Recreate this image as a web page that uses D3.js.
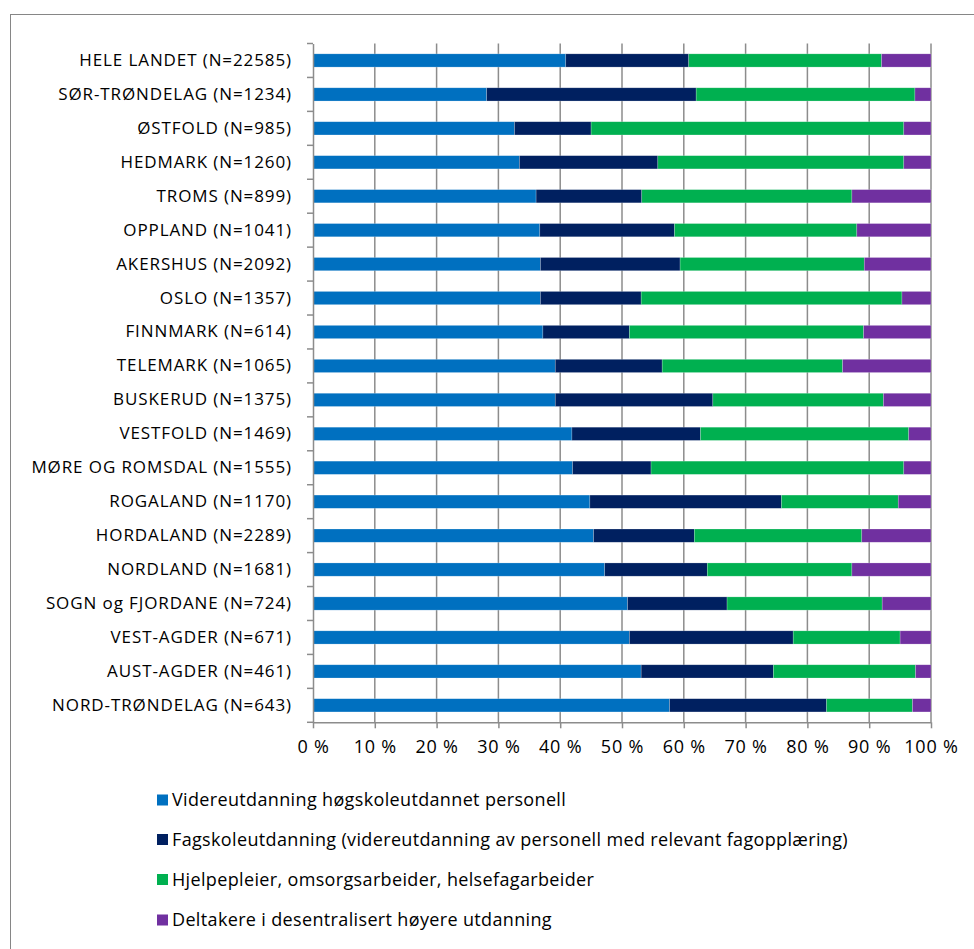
<!DOCTYPE html>
<html><head><meta charset="utf-8">
<script src="https://cdn.jsdelivr.net/npm/d3@7"></script>
<style>
html,body{margin:0;padding:0;background:#fff;}
svg{display:block;}
text{font-family:"Open Sans",Lato,sans-serif;fill:#000;}
</style></head><body>
<svg id="c" width="974" height="949"></svg>
<script>
const categories = ["HELE LANDET (N=22585)","SØR-TRØNDELAG (N=1234)","ØSTFOLD (N=985)","HEDMARK (N=1260)","TROMS (N=899)","OPPLAND (N=1041)","AKERSHUS (N=2092)","OSLO (N=1357)","FINNMARK (N=614)","TELEMARK (N=1065)","BUSKERUD (N=1375)","VESTFOLD (N=1469)","MØRE OG ROMSDAL (N=1555)","ROGALAND (N=1170)","HORDALAND (N=2289)","NORDLAND (N=1681)","SOGN og FJORDANE (N=724)","VEST-AGDER (N=671)","AUST-AGDER (N=461)","NORD-TRØNDELAG (N=643)"];
const seriesNames = ["Videreutdanning høgskoleutdannet personell","Fagskoleutdanning (videreutdanning av personell med relevant fagopplæring)","Hjelpepleier, omsorgsarbeider, helsefagarbeider","Deltakere i desentralisert høyere utdanning"];
const hogskole = [40.9,28.1,32.6,33.4,36.1,36.7,36.8,36.8,37.2,39.2,39.2,41.9,42.0,44.8,45.4,47.2,50.9,51.2,53.1,57.7];
const fagskole = [19.9,33.9,12.4,22.4,17.1,21.8,22.6,16.3,14.0,17.3,25.5,20.8,12.7,31.0,16.3,16.6,16.1,26.5,21.4,25.4];
const hjelpepleier = [31.2,35.4,50.6,39.8,34.0,29.5,29.8,42.2,37.9,29.2,27.6,33.7,40.9,18.9,27.1,23.4,25.1,17.3,23.0,13.9];
const desentralisert = [8.0,2.6,4.4,4.4,12.8,12.0,10.8,4.7,10.9,14.3,7.7,3.6,4.4,5.3,11.2,12.8,7.9,5.0,2.5,3.0];
const tickValues = [0,10,20,30,40,50,60,70,80,90,100];
const colors = ["#0070C0","#002060","#00B050","#7030A0"];

(function(){
const svg = d3.select("#c");
const FONT = "'Open Sans',Lato,sans-serif";
svg.append("rect").attr("x",10.5).attr("y",14.5).attr("width",1000).attr("height",1000)
  .attr("fill","#fff").attr("stroke","#868686").attr("stroke-width",1);

const pL = 313, pR = 931, pT = 43.5, pB = 722.3;
const x = d3.scaleLinear().domain([0,100]).range([pL,pR]);
const y = d3.scaleBand().domain(categories).range([pT,pB]).paddingInner(0.61).paddingOuter(0.305);

svg.append("g").selectAll("line").data(tickValues.slice(1)).join("line")
  .attr("x1",d=>x(d)).attr("x2",d=>x(d)).attr("y1",pT).attr("y2",pB)
  .attr("stroke","#8c8c8c").attr("stroke-width",1.5);

const rows = categories.map((c,i)=>({cat:c,v:[hogskole[i],fagskole[i],hjelpepleier[i],desentralisert[i]]}));
const stacked = d3.stack().keys([0,1,2,3]).value((d,k)=>d.v[k])(rows);
svg.append("g").selectAll("g").data(stacked).join("g")
  .attr("fill",(d,i)=>colors[i])
  .selectAll("rect").data(d=>d).join("rect")
  .attr("x",d=>x(d[0])).attr("width",d=>x(d[1])-x(d[0]))
  .attr("y",d=>y(d.data.cat)).attr("height",y.bandwidth())
  .attr("stroke","rgba(255,255,255,0.35)").attr("stroke-width",0.6);

const xAxis = d3.axisBottom(x).tickValues(tickValues).tickSize(6).tickSizeOuter(0).tickFormat(d=>d+" %");
const gx = svg.append("g").attr("transform",`translate(0,${pB})`).call(xAxis);
gx.select(".domain").attr("stroke","#8c8c8c").attr("stroke-width",1.5);
gx.selectAll(".tick line").attr("stroke","#8c8c8c").attr("stroke-width",1.5);
gx.selectAll(".tick text").attr("y",18).attr("font-size","18px").attr("letter-spacing","0.8px")
  .attr("font-family",FONT).attr("fill","#000");

const yAxis = d3.axisLeft(y).tickSize(0).tickPadding(21);
const gy = svg.append("g").attr("transform",`translate(${pL},0)`).call(yAxis);
gy.select(".domain").attr("stroke","#8c8c8c").attr("stroke-width",1.5);
gy.selectAll(".tick text").attr("font-size","17px").attr("letter-spacing","0.9px")
  .attr("font-family",FONT).attr("fill","#000");
const bounds = d3.range(categories.length+1).map(i=>pT + i*y.step());
svg.append("g").selectAll("line").data(bounds).join("line")
  .attr("x1",pL-6).attr("x2",pL).attr("y1",d=>d).attr("y2",d=>d)
  .attr("stroke","#8c8c8c").attr("stroke-width",1.5);

const lg = svg.append("g");
const legY = [800,839.5,879.5,920];
seriesNames.forEach((n,i)=>{
  lg.append("rect").attr("x",157).attr("y",legY[i]-5.5).attr("width",11).attr("height",11).attr("fill",colors[i]);
  lg.append("text").attr("x",172).attr("y",legY[i]).attr("dy","0.35em").attr("font-size","18px")
    .attr("letter-spacing","0.35px").attr("font-family",FONT).text(n);
});
})();
</script>
</body></html>
